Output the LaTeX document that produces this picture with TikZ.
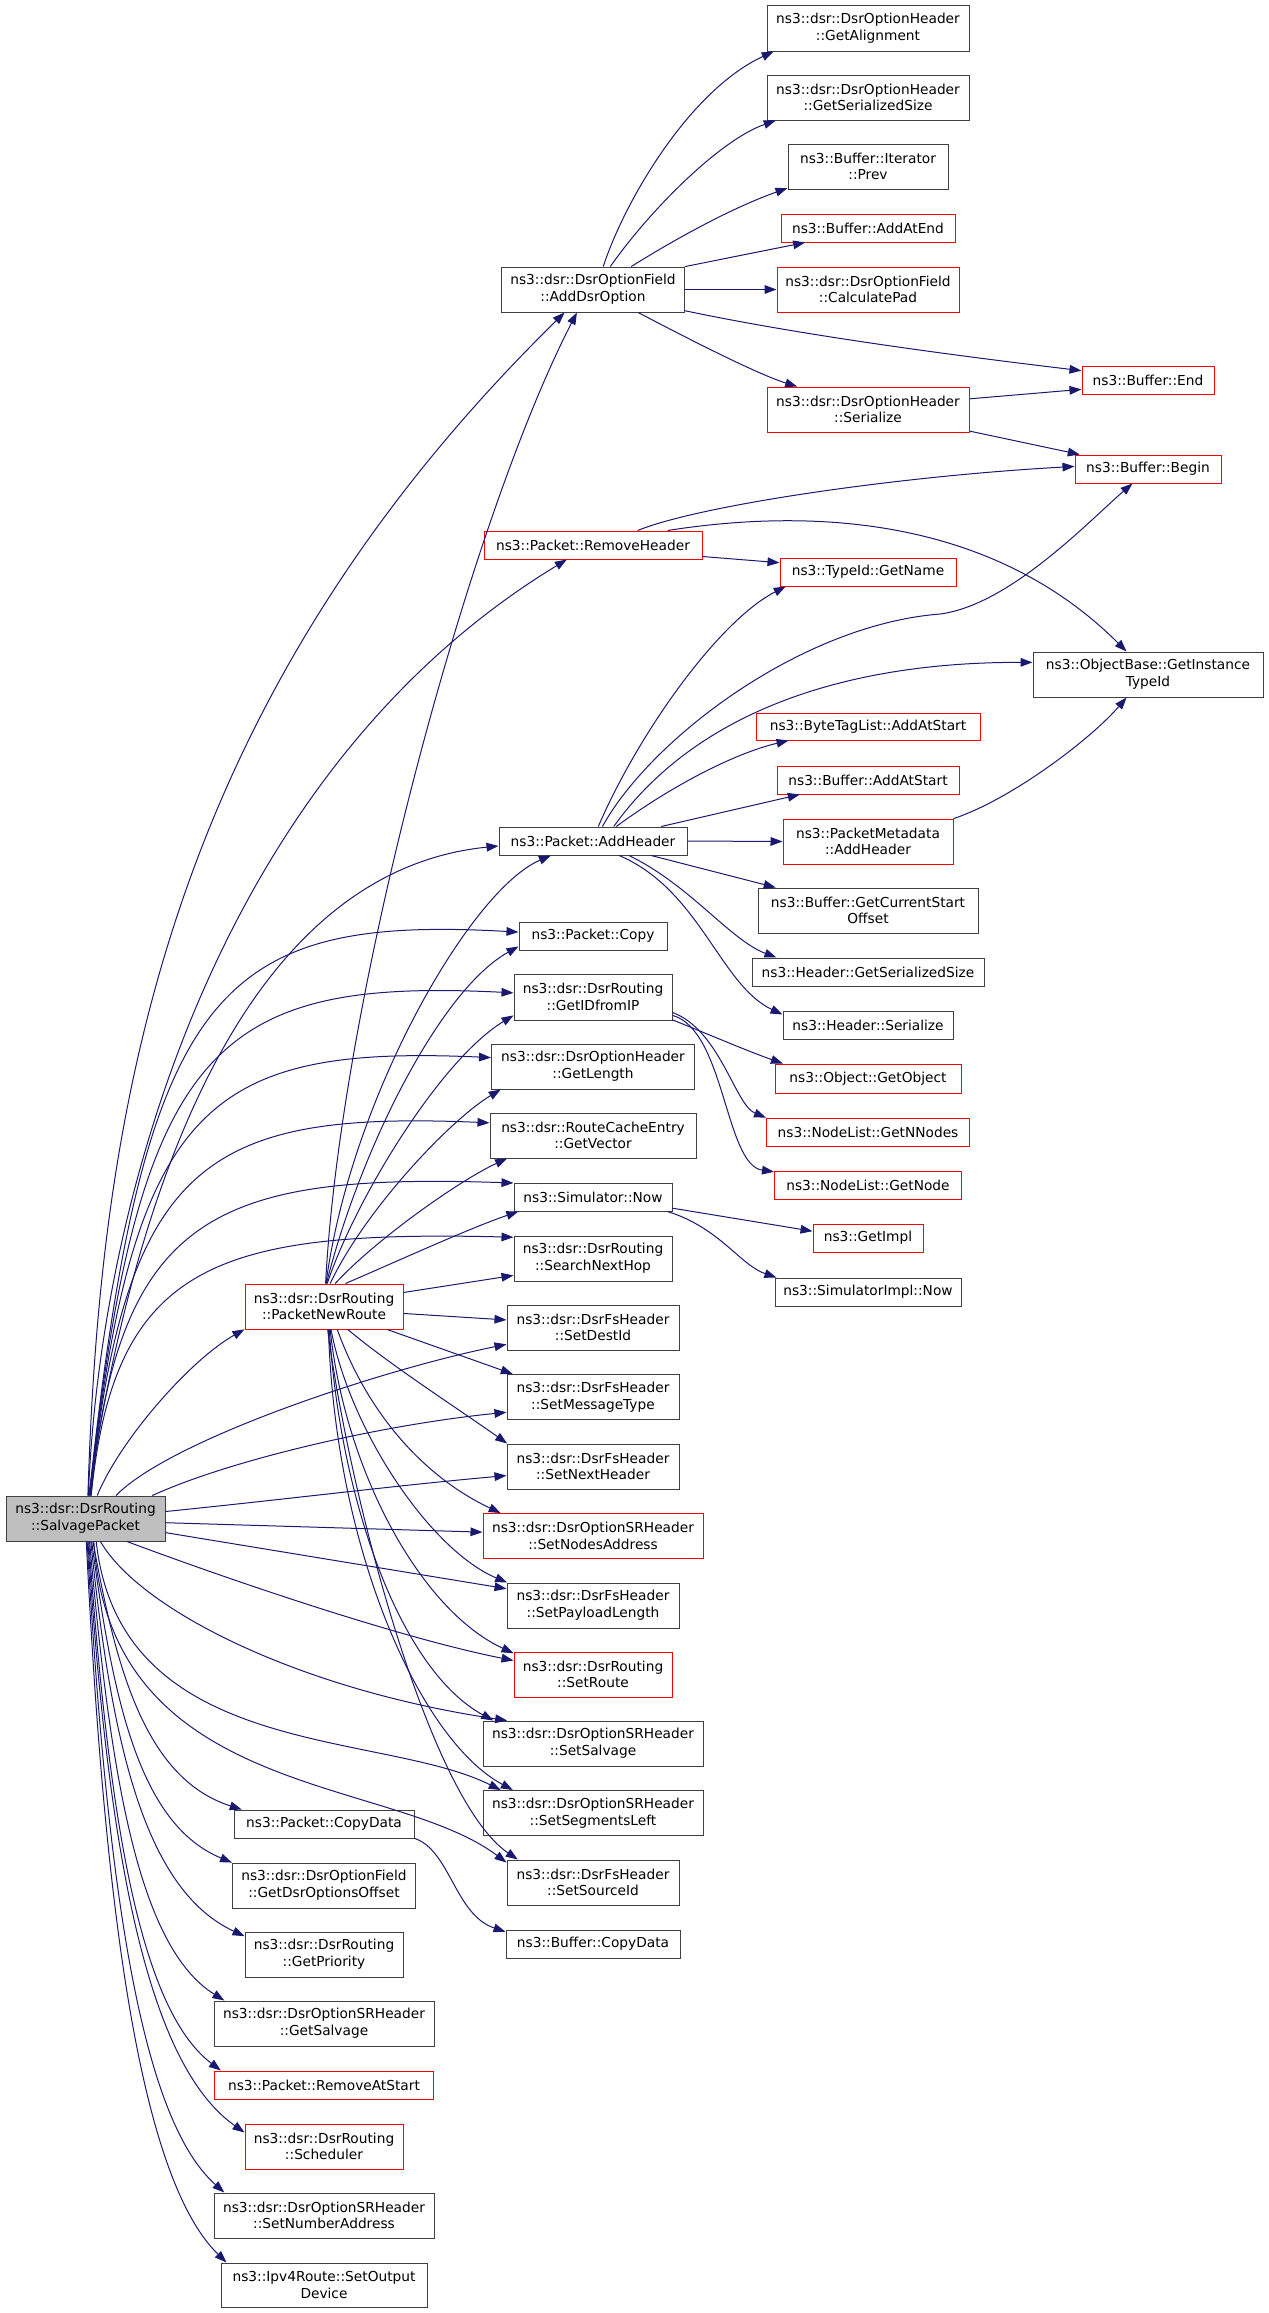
\documentclass[tikz,border=0pt]{standalone}
\usepackage{fontspec}
\setmainfont{DejaVu Sans}
\usetikzlibrary{arrows.meta}

\definecolor{edgeblue}{RGB}{25,25,112}
\definecolor{nodegray}{RGB}{64,64,64}
\definecolor{truncred}{RGB}{255,0,0}
\definecolor{rootfill}{RGB}{191,191,191}

\tikzset{
  fn/.style={draw=nodegray, fill=white, line width=0.75pt, inner sep=0pt,
    align=center, font=\fontsize{10.3}{12.5}\selectfont},
  trunc/.style={fn, draw=truncred},
  root/.style={fn, fill=rootfill},
  sz/.style 2 args={minimum width=#1*0.75pt, minimum height=#2*0.75pt},
  call/.style={->, color=edgeblue, line width=0.75pt},
}

\begin{document}
\begin{tikzpicture}[x=0.75pt, y=0.75pt, >={Triangle[length=9pt,width=6.5pt]}]
    \useasboundingbox (0,0) rectangle (1269,-2313);

    % Nodes
    \node[root, sz={159}{45}] (salv) at (85.5,-1518.5) {ns3::dsr::DsrRouting\\::SalvagePacket};

    \node[trunc, sz={158}{45}] (pnr) at (324,-1306.5) {ns3::dsr::DsrRouting\\::PacketNewRoute};
    \node[fn, sz={180}{28}] (pcopydata) at (324,-1824) {ns3::Packet::CopyData};
    \node[fn, sz={183}{45}] (optoffset) at (324,-1885.5) {ns3::dsr::DsrOptionField\\::GetDsrOptionsOffset};
    \node[fn, sz={158}{45}] (prio) at (324,-1954.5) {ns3::dsr::DsrRouting\\::GetPriority};
    \node[fn, sz={220}{45}] (getsalv) at (324,-2023.5) {ns3::dsr::DsrOptionSRHeader\\::GetSalvage};
    \node[trunc, sz={219}{28}] (rmstart) at (324,-2085) {ns3::Packet::RemoveAtStart};
    \node[trunc, sz={158}{45}] (sched) at (324,-2146.5) {ns3::dsr::DsrRouting\\::Scheduler};
    \node[fn, sz={220}{45}] (setnum) at (324,-2215.5) {ns3::dsr::DsrOptionSRHeader\\::SetNumberAddress};
    \node[fn, sz={206}{44}] (setout) at (324,-2285) {ns3::Ipv4Route::SetOutput\\Device};

    \node[fn, sz={183}{45}] (adddsr) at (593,-289.5) {ns3::dsr::DsrOptionField\\::AddDsrOption};
    \node[trunc, sz={218}{28}] (rmhdr) at (593,-545) {ns3::Packet::RemoveHeader};
    \node[fn, sz={188}{28}] (addhdr) at (593,-841) {ns3::Packet::AddHeader};
    \node[fn, sz={148}{28}] (copy) at (593,-936) {ns3::Packet::Copy};
    \node[fn, sz={158}{46}] (getid) at (593,-997) {ns3::dsr::DsrRouting\\::GetIDfromIP};
    \node[fn, sz={203}{45}] (getlen) at (593,-1066.5) {ns3::dsr::DsrOptionHeader\\::GetLength};
    \node[fn, sz={206}{45}] (getvec) at (593,-1135.5) {ns3::dsr::RouteCacheEntry\\::GetVector};
    \node[fn, sz={158}{28}] (now) at (593,-1197) {ns3::Simulator::Now};
    \node[fn, sz={158}{45}] (nexthop) at (593,-1258.5) {ns3::dsr::DsrRouting\\::SearchNextHop};
    \node[fn, sz={172}{45}] (destid) at (593,-1327.5) {ns3::dsr::DsrFsHeader\\::SetDestId};
    \node[fn, sz={172}{45}] (msgtype) at (593,-1397) {ns3::dsr::DsrFsHeader\\::SetMessageType};
    \node[fn, sz={172}{45}] (nexthdr) at (593,-1466.5) {ns3::dsr::DsrFsHeader\\::SetNextHeader};
    \node[trunc, sz={220}{45}] (nodesaddr) at (593,-1536) {ns3::dsr::DsrOptionSRHeader\\::SetNodesAddress};
    \node[fn, sz={172}{45}] (payload) at (593,-1605.5) {ns3::dsr::DsrFsHeader\\::SetPayloadLength};
    \node[trunc, sz={158}{45}] (setroute) at (593,-1674.5) {ns3::dsr::DsrRouting\\::SetRoute};
    \node[fn, sz={220}{45}] (setsalv) at (593,-1743.5) {ns3::dsr::DsrOptionSRHeader\\::SetSalvage};
    \node[fn, sz={220}{45}] (segleft) at (593,-1813) {ns3::dsr::DsrOptionSRHeader\\::SetSegmentsLeft};
    \node[fn, sz={172}{45}] (srcid) at (593,-1882.5) {ns3::dsr::DsrFsHeader\\::SetSourceId};
    \node[fn, sz={174}{28}] (bufcopy) at (593,-1944) {ns3::Buffer::CopyData};

    \node[fn, sz={202}{46}] (align) at (868,-28) {ns3::dsr::DsrOptionHeader\\::GetAlignment};
    \node[fn, sz={202}{45}] (sersize) at (868,-97.5) {ns3::dsr::DsrOptionHeader\\::GetSerializedSize};
    \node[fn, sz={160}{45}] (prev) at (868,-166.5) {ns3::Buffer::Iterator\\::Prev};
    \node[trunc, sz={174}{28}] (addend) at (868,-228) {ns3::Buffer::AddAtEnd};
    \node[trunc, sz={182}{45}] (calcpad) at (868,-289.5) {ns3::dsr::DsrOptionField\\::CalculatePad};
    \node[trunc, sz={202}{45}] (optser) at (868,-409.5) {ns3::dsr::DsrOptionHeader\\::Serialize};
    \node[trunc, sz={176}{28}] (getname) at (868,-572) {ns3::TypeId::GetName};
    \node[trunc, sz={224}{27}] (btag) at (868,-726.5) {ns3::ByteTagList::AddAtStart};
    \node[trunc, sz={182}{28}] (bufaddstart) at (868,-780) {ns3::Buffer::AddAtStart};
    \node[trunc, sz={170}{45}] (pmeta) at (868,-841.5) {ns3::PacketMetadata\\::AddHeader};
    \node[fn, sz={220}{45}] (curstart) at (868,-910.5) {ns3::Buffer::GetCurrentStart\\Offset};
    \node[fn, sz={232}{28}] (hdrsize) at (868,-972) {ns3::Header::GetSerializedSize};
    \node[fn, sz={170}{28}] (hdrser) at (868,-1025) {ns3::Header::Serialize};
    \node[trunc, sz={186}{29}] (getobj) at (868,-1078.5) {ns3::Object::GetObject};
    \node[trunc, sz={203}{28}] (nnodes) at (868,-1132) {ns3::NodeList::GetNNodes};
    \node[trunc, sz={187}{28}] (getnode) at (868,-1185) {ns3::NodeList::GetNode};
    \node[trunc, sz={110}{28}] (getimpl) at (868,-1238) {ns3::GetImpl};
    \node[fn, sz={186}{28}] (simnow) at (868,-1292) {ns3::SimulatorImpl::Now};

    \node[trunc, sz={132}{28}] (bufend) at (1148,-380) {ns3::Buffer::End};
    \node[trunc, sz={146}{28}] (bufbegin) at (1148,-469) {ns3::Buffer::Begin};
    \node[fn, sz={230}{45}] (typeid) at (1148,-674.5) {ns3::ObjectBase::GetInstance\\TypeId};

    % Calls of SalvagePacket
    \draw[call] (salv.84) .. controls (100,-1100) and (170,-700) .. (adddsr.219);
    \draw[call] (salv.83) .. controls (100,-1200) and (220,-770) .. (rmhdr.209);
    \draw[call] (salv.82) .. controls (140,-1150) and (260,-870) .. (addhdr.183);
    \draw[call] (salv.81) .. controls (144,-988) and (217,-915) .. (copy.177);
    \draw[call] (salv.80) .. controls (138,-1043) and (216,-978) .. (getid.177);
    \draw[call] (salv.79) .. controls (132,-1102) and (209,-1045) .. (getlen.175);
    \draw[call] (salv.78) .. controls (125,-1159) and (209,-1111) .. (getvec.173);
    \draw[call] (salv.77) .. controls (119,-1213) and (216,-1173) .. (now.170);
    \draw[call] (salv.76) .. controls (114,-1264) and (216,-1230) .. (nexthop.165);
    \draw[call] (salv.63) .. controls (120,-1440) and (190,-1360) .. (pnr.196);
    \draw[call] (salv.37) .. controls (170,-1440) and (380,-1370) .. (destid.191);
    \draw[call] (salv.19) .. controls (230,-1460) and (380,-1425) .. (msgtype.190);
    \draw[call] (salv.5) .. controls (280,-1500) and (400,-1485) .. (nexthdr.186);
    \draw[call] (salv.357) -- (nodesaddr.178);
    \draw[call] (salv.350) -- (payload.169);
    \draw[call] (salv.331) .. controls (230,-1580) and (400,-1638) .. (setroute.170);
    \draw[call] (salv.303) .. controls (140,-1610) and (300,-1690) .. (setsalv.165);
    \draw[call] (salv.295) .. controls (120,-1760) and (380,-1730) .. (segleft.166);
    \draw[call] (salv.290) .. controls (110,-1800) and (390,-1775) .. (srcid.167);
    \draw[call] (salv.288) .. controls (115,-1662) and (143,-1778) .. (pcopydata.170);
    \draw[call] (salv.285) .. controls (113,-1700) and (139,-1824) .. (optoffset.166);
    \draw[call] (salv.283) .. controls (111,-1739) and (143,-1889) .. (prio.167);
    \draw[call] (salv.280) .. controls (110,-1771) and (137,-1946) .. (getsalv.167);
    \draw[call] (salv.278) .. controls (108,-1806) and (137,-2007) .. (rmstart.172);
    \draw[call] (salv.276) .. controls (107,-1836) and (143,-2061) .. (sched.170);
    \draw[call] (salv.274) .. controls (106,-1867) and (137,-2115) .. (setnum.167);
    \draw[call] (salv.272) .. controls (104,-1900) and (138,-2176) .. (setout.167);

    % Calls of PacketNewRoute
    \draw[call] (pnr.86) .. controls (340,-1000) and (470,-520) .. (adddsr.235);
    \draw[call] (pnr.85) .. controls (350,-1100) and (470,-890) .. (addhdr.199);
    \draw[call] (pnr.84) .. controls (360,-1150) and (440,-990) .. (copy.188);
    \draw[call] (pnr.82) .. controls (355,-1200) and (440,-1060) .. (getid.193);
    \draw[call] (pnr.75) .. controls (365,-1210) and (450,-1120) .. (getlen.194);
    \draw[call] (pnr.64) .. controls (375,-1240) and (460,-1180) .. (getvec.195);
    \draw[call] (pnr.47) .. controls (400,-1260) and (470,-1228) .. (now.191);
    \draw[call] (pnr.10) -- (nexthop.192);
    \draw[call] (pnr.355) -- (destid.175);
    \draw[call] (pnr.340) -- (msgtype.164);
    \draw[call] (pnr.316) .. controls (390,-1365) and (460,-1410) .. (nexthdr.165);
    \draw[call] (pnr.300) .. controls (370,-1420) and (430,-1480) .. (nodesaddr.166);
    \draw[call] (pnr.287) .. controls (350,-1430) and (430,-1550) .. (payload.165);
    \draw[call] (pnr.285) .. controls (345,-1470) and (420,-1610) .. (setroute.165);
    \draw[call] (pnr.283) .. controls (340,-1500) and (400,-1670) .. (setsalv.167);
    \draw[call] (pnr.281) .. controls (335,-1550) and (420,-1740) .. (segleft.164);
    \draw[call] (pnr.279) .. controls (350,-1500) and (430,-1800) .. (srcid.163);

    % Calls of AddDsrOption and Serialize
    \draw[call] (adddsr.66) .. controls (625,-200) and (690,-90) .. (align.194);
    \draw[call] (adddsr.53) .. controls (650,-210) and (720,-140) .. (sersize.194);
    \draw[call] (adddsr.31) .. controls (690,-230) and (740,-205) .. (prev.195);
    \draw[call] (adddsr.14) -- (addend.193);
    \draw[call] (adddsr.east) -- (calcpad.west);
    \draw[call] (adddsr.347) .. controls (800,-335) and (950,-355) .. (bufend.172);
    \draw[call] (adddsr.333) .. controls (700,-345) and (760,-375) .. (optser.162);
    \draw[call] (optser.6) -- (bufend.188);
    \draw[call] (optser.348) -- (bufbegin.168);

    % Calls of RemoveHeader
    \draw[call] (rmhdr.18) .. controls (700,-505) and (900,-476) .. (bufbegin.178);
    \draw[call] (rmhdr.11) .. controls (830,-505) and (1000,-525) .. (typeid.133);
    \draw[call] (rmhdr.354) -- (getname.174);

    % Calls of AddHeader
    \draw[call] (addhdr.70) .. controls (640,-730) and (720,-620) .. (getname.190);
    \draw[call] (addhdr.57) .. controls (650,-740) and (800,-625) .. (940,-614)
                .. controls (1010,-605) and (1090,-520) .. (bufbegin.223);
    \draw[call] (addhdr.35) .. controls (690,-720) and (830,-662) .. (typeid.174);
    \draw[call] (addhdr.32) .. controls (680,-780) and (740,-752) .. (btag.190);
    \draw[call] (addhdr.12) -- (bufaddstart.192);
    \draw[call] (addhdr.east) -- (pmeta.west);
    \draw[call] (addhdr.346) -- (curstart.166);
    \draw[call] (addhdr.338) .. controls (690,-885) and (730,-940) .. (hdrsize.171);
    \draw[call] (addhdr.331) .. controls (700,-890) and (720,-985) .. (hdrser.173);
    \draw[call] (pmeta.15) .. controls (1010,-800) and (1090,-740) .. (typeid.227);

    % Calls of GetIDfromIP, Now and CopyData
    \draw[call] (getid.344) .. controls (710,-1035) and (750,-1052) .. (getobj.170);
    \draw[call] (getid.349) .. controls (720,-1030) and (735,-1105) .. (nnodes.172);
    \draw[call] (getid.347) .. controls (725,-1030) and (725,-1165) .. (getnode.172);
    \draw[call] (now.352) -- (getimpl.173);
    \draw[call] (now.349) .. controls (720,-1228) and (740,-1265) .. (simnow.171);
    \draw[call] (pcopydata.351) .. controls (450,-1850) and (455,-1915) .. (bufcopy.172);

\end{tikzpicture}
\end{document}
